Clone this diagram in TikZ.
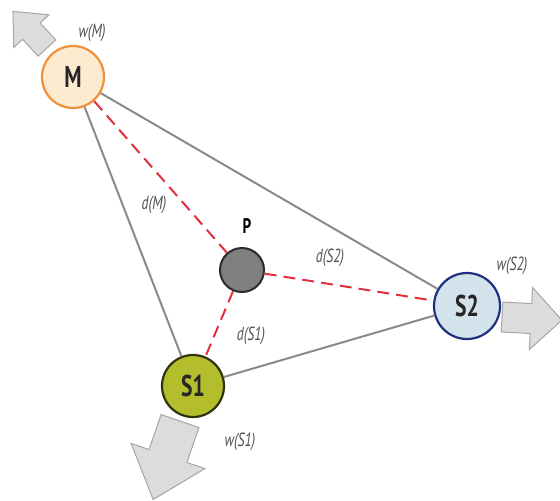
\documentclass[tikz,border=0pt]{standalone}
\usepackage{fontspec}
\setmainfont{PT Sans}[FakeStretch=0.72]
\usetikzlibrary{calc}

\definecolor{linegray}{HTML}{8A8A8A}
\definecolor{distred}{HTML}{E0303C}
\definecolor{labelgray}{HTML}{505050}
\definecolor{arrowfill}{HTML}{DCDCDC}
\definecolor{arrowedge}{HTML}{A6A6A6}
\definecolor{mfill}{HTML}{FDEBD0}
\definecolor{medge}{HTML}{F0903A}
\definecolor{stwofill}{HTML}{D3E3EC}
\definecolor{stwoedge}{HTML}{1F2F7F}
\definecolor{sonefill}{HTML}{B4BD2C}
\definecolor{soneedge}{HTML}{2F3410}
\definecolor{pfill}{HTML}{7F7F7F}
\definecolor{pedge}{HTML}{2B2B2B}

% tail, angle, length, shaft half width, head half width, head length
\newcommand{\weightarrow}[6]{%
  \draw[weight, shift={#1}, rotate=#2] (0,-#4) -- ({#3-#6},-#4) -- ({#3-#6},-#5) -- (#3,0)
    -- ({#3-#6},#5) -- ({#3-#6},#4) -- (0,#4) -- cycle;}

\begin{document}
\begin{tikzpicture}[x=1pt, y=-1pt,
  station/.style={draw, circle, line width=2.2pt, minimum size=62pt, inner sep=0pt,
    text=black!85, font=\bfseries\fontsize{30}{30}\selectfont},
  link/.style={draw=linegray, line width=2pt},
  dist/.style={draw=distred, line width=2pt, dash pattern=on 12pt off 7pt},
  lbl/.style={font=\itshape\fontsize{19}{19}\selectfont, text=labelgray},
  weight/.style={fill=arrowfill, draw=arrowedge, line width=1pt}]
  \useasboundingbox (0,0) rectangle (560,501);

  \weightarrow{(47,48)}{132.9}{50}{12}{24}{27}
  \weightarrow{(502,317)}{-3}{60}{15}{31}{31}
  \weightarrow{(180,421)}{-108.9}{83}{20}{39}{46}

  \node[station, fill=mfill, draw=medge] (M) at (73,77) {M};
  \node[station, fill=stwofill, draw=stwoedge, minimum size=66pt] (S2) at (467,306) {S2};
  \node[station, fill=sonefill, draw=soneedge] (S1) at (193,386) {S1};
  \node[circle, draw=pedge, fill=pfill, line width=2pt, minimum size=44pt, inner sep=0pt] (P) at (242,270) {};

  \draw[link] (M) -- (S1);
  \draw[link] (M) -- (S2);
  \draw[link] (S1) -- (S2);

  \draw[dist] (M) -- (P);
  \draw[dist] (P) -- (S2);
  \draw[dist] (P) -- (S1);

  \node[font=\bfseries\fontsize{21}{21}\selectfont] (Plabel) at (247,226) {P};
  \node[lbl] (wM) at (92,33) {w(M)};
  \node[lbl] (dM) at (154,205) {d(M)};
  \node[lbl] (dS2) at (330,258) {d(S2)};
  \node[lbl] (wS2) at (512,266) {w(S2)};
  \node[lbl] (dS1) at (251,336) {d(S1)};
  \node[lbl] (wS1) at (240,442) {w(S1)};
\end{tikzpicture}
\end{document}
